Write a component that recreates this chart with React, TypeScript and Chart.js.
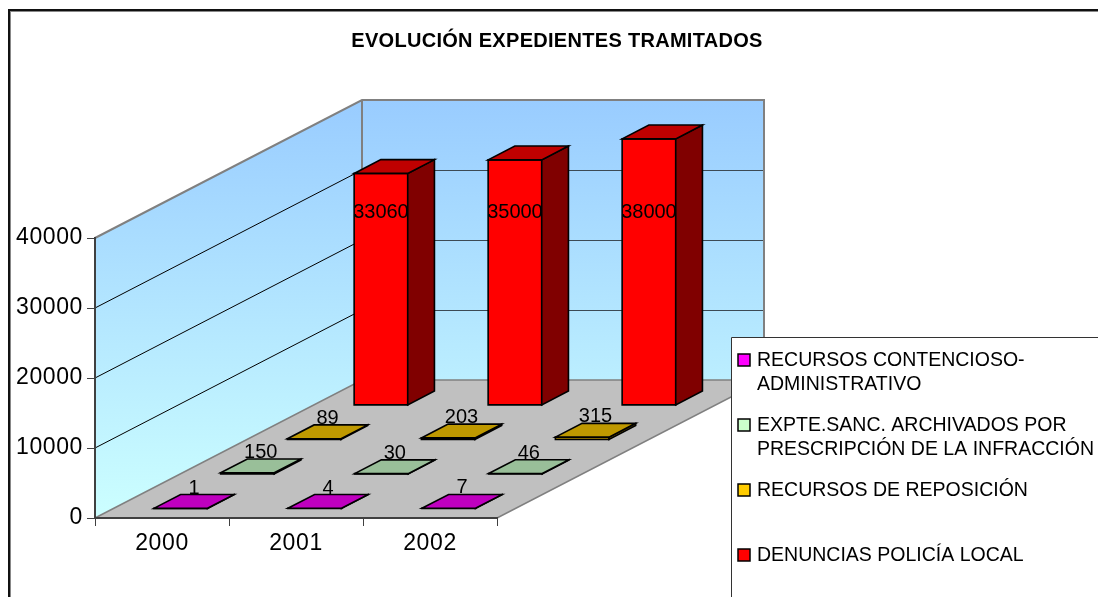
import React, { useEffect, useRef } from 'react';
import { Chart, registerables } from 'chart.js';

Chart.register(...registerables);

// ---------- data ----------
const categories = ['2000', '2001', '2002'];
const contencioso = [1, 4, 7];
const archivados = [150, 30, 46];
const reposicion = [89, 203, 315];
const denuncias = [33060, 35000, 38000];
const seriesLabels = [
  'RECURSOS CONTENCIOSO-ADMINISTRATIVO',
  'EXPTE.SANC. ARCHIVADOS POR PRESCRIPCIÓN DE LA INFRACCIÓN',
  'RECURSOS DE REPOSICIÓN',
  'DENUNCIAS POLICÍA LOCAL',
];
const legendLines = [
  ['RECURSOS CONTENCIOSO-', 'ADMINISTRATIVO'],
  ['EXPTE.SANC. ARCHIVADOS POR', 'PRESCRIPCIÓN DE LA INFRACCIÓN'],
  ['RECURSOS DE REPOSICIÓN'],
  ['DENUNCIAS POLICÍA LOCAL'],
];
const seriesColors = ['#FF00FF', '#CCFFCC', '#FFCC00', '#FF0000'];
const yTicks = [0, 10000, 20000, 30000, 40000];
const chartTitle = 'EVOLUCIÓN EXPEDIENTES TRAMITADOS';

// ---------- style / geometry constants ----------
const FONT = "'Liberation Sans', Arial, sans-serif";
const DX = 267; // depth projection
const DY = -138;
const ROW_SPAN = 0.25;
const ROW_GAP = 0.07;
const ROW_DEPTH = 0.1;
const BAR_FRAC = 0.4;

function shade(hex: string, f: number) {
  const n = parseInt(hex.slice(1), 16);
  const r = Math.round(((n >> 16) & 255) * f);
  const g = Math.round(((n >> 8) & 255) * f);
  const b = Math.round((n & 255) * f);
  return `rgb(${r},${g},${b})`;
}

function poly(ctx: CanvasRenderingContext2D, pts: number[][], fill?: any, stroke?: string, lw = 1) {
  ctx.beginPath();
  ctx.moveTo(pts[0][0], pts[0][1]);
  for (let i = 1; i < pts.length; i++) ctx.lineTo(pts[i][0], pts[i][1]);
  ctx.closePath();
  if (fill) {
    ctx.fillStyle = fill;
    ctx.fill();
  }
  if (stroke) {
    ctx.strokeStyle = stroke;
    ctx.lineWidth = lw;
    ctx.stroke();
  }
}

const threeD = {
  id: 'threeD',
  beforeDraw(chart: any) {
    const ctx: CanvasRenderingContext2D = chart.ctx;
    const ys = chart.scales.y;
    const L = chart.chartArea.left;
    const R = chart.chartArea.right;
    const y0 = ys.getPixelForValue(ys.min);
    const yT = ys.getPixelForValue(ys.max);
    ctx.save();
    ctx.fillStyle = '#fff';
    ctx.fillRect(0, 0, chart.width, chart.height);
    // outer chart border
    ctx.fillStyle = '#111';
    ctx.fillRect(8, 9, chart.width - 8, 2);
    ctx.fillRect(8, 9, 2, chart.height - 9);
    ctx.fillStyle = '#888';
    ctx.fillRect(10, 11, chart.width - 10, 1);
    ctx.fillRect(10, 11, 1, chart.height - 11);

    const grad = ctx.createLinearGradient(0, yT + DY, 0, y0);
    grad.addColorStop(0, '#99CCFF');
    grad.addColorStop(1, '#CCFFFF');
    // side wall
    poly(ctx, [[L, yT], [L + DX, yT + DY], [L + DX, y0 + DY], [L, y0]], grad);
    // back wall
    poly(ctx, [[L + DX, yT + DY], [R + DX, yT + DY], [R + DX, y0 + DY], [L + DX, y0 + DY]], grad);
    // floor
    poly(ctx, [[L, y0], [R, y0], [R + DX, y0 + DY], [L + DX, y0 + DY]], '#C0C0C0');

    // gridlines
    ctx.lineWidth = 1;
    for (const t of ys.ticks) {
      const v = t.value;
      if (v === ys.min || v === ys.max) continue;
      const py = ys.getPixelForValue(v);
      ctx.strokeStyle = '#000';
      ctx.beginPath();
      ctx.moveTo(L, py);
      ctx.lineTo(L + DX, py + DY);
      ctx.stroke();
      ctx.strokeStyle = '#3c4a55';
      ctx.beginPath();
      ctx.moveTo(L + DX, Math.round(py + DY) + 0.5);
      ctx.lineTo(R + DX, Math.round(py + DY) + 0.5);
      ctx.stroke();
    }
    // wall / floor edges
    ctx.strokeStyle = '#808080';
    ctx.lineWidth = 2;
    ctx.beginPath();
    ctx.moveTo(L, yT);
    ctx.lineTo(L + DX, yT + DY);
    ctx.lineTo(R + DX, yT + DY);
    ctx.lineTo(R + DX, y0 + DY);
    ctx.moveTo(L + DX, yT + DY);
    ctx.lineTo(L + DX, y0 + DY);
    ctx.stroke();
    ctx.lineWidth = 1.5;
    ctx.beginPath();
    ctx.moveTo(L, y0);
    ctx.lineTo(L + DX, y0 + DY);
    ctx.lineTo(R + DX, y0 + DY);
    ctx.lineTo(R, y0);
    ctx.stroke();
    ctx.restore();
    (ctx as any).letterSpacing = '0.6px';
  },
  beforeDatasetsDraw() {
    return false;
  },
  afterDraw(chart: any) {
    const ctx: CanvasRenderingContext2D = chart.ctx;
    (ctx as any).letterSpacing = '0px';
    const xs = chart.scales.x;
    const ys = chart.scales.y;
    const y0 = ys.getPixelForValue(0);
    const catW = xs.getPixelForValue(1) - xs.getPixelForValue(0);
    const halfW = (catW * BAR_FRAC) / 2;
    const datasets = chart.data.datasets;
    const labels: any[] = [];

    ctx.save();
    ctx.lineJoin = 'miter';
    for (let s = datasets.length - 1; s >= 0; s--) {
      const ds = datasets[s];
      const d0 = s * ROW_SPAN + ROW_GAP;
      const d1 = d0 + ROW_DEPTH;
      const ox = DX * d0, oy = DY * d0;
      const ddx = DX * (d1 - d0), ddy = DY * (d1 - d0);
      const color = ds.backgroundColor as string;
      ds.data.forEach((v: number, i: number) => {
        const cx = xs.getPixelForValue(i);
        const xl = cx - halfW + ox;
        const xr = cx + halfW + ox;
        const yb = y0 + oy;
        const yt = ys.getPixelForValue(v) + oy;
        // front
        poly(ctx, [[xl, yt], [xr, yt], [xr, yb], [xl, yb]], color, '#000', 1.6);
        // side
        poly(ctx, [[xr, yt], [xr + ddx, yt + ddy], [xr + ddx, yb + ddy], [xr, yb]], shade(color, 0.5), '#000', 1.6);
        // top
        poly(ctx, [[xl, yt], [xr, yt], [xr + ddx, yt + ddy], [xl + ddx, yt + ddy]], shade(color, 0.75), '#000', 1.6);
        if (yb - yt > 40) {
          labels.push({ text: String(v), x: cx + ox, y: yb - 192, base: 'middle' });
        } else {
          labels.push({ text: String(v), x: cx + ox + ddx / 2, y: yt + ddy - 1, base: 'alphabetic' });
        }
      });
    }
    // value labels
    ctx.fillStyle = '#000';
    ctx.font = `20px ${FONT}`;
    ctx.textAlign = 'center';
    for (const l of labels) {
      ctx.textBaseline = l.base;
      ctx.fillText(l.text, l.x, l.y);
    }

    // legend box
    ctx.fillStyle = '#fff';
    ctx.fillRect(731, 337, chart.width, chart.height);
    ctx.strokeStyle = '#333';
    ctx.lineWidth = 1;
    ctx.beginPath();
    ctx.moveTo(731.5, chart.height + 2);
    ctx.lineTo(731.5, 337.5);
    ctx.lineTo(chart.width + 2, 337.5);
    ctx.stroke();
    ctx.font = `19.5px ${FONT}`;
    ctx.textAlign = 'left';
    ctx.textBaseline = 'middle';
    legendLines.forEach((lines, i) => {
      const cy = 360 + 65 * i;
      ctx.fillStyle = seriesColors[i];
      ctx.fillRect(738, cy - 6, 12, 12);
      ctx.strokeStyle = '#000';
      ctx.lineWidth = 1.5;
      ctx.strokeRect(738, cy - 6, 12, 12);
      ctx.fillStyle = '#000';
      lines.forEach((ln, j) => ctx.fillText(ln, 757, cy + 24 * j + 1));
    });

    // title
    ctx.font = `bold 20px ${FONT}`;
    (ctx as any).letterSpacing = '0.3px';
    ctx.textAlign = 'center';
    ctx.textBaseline = 'middle';
    ctx.fillText(chartTitle, 557, 41);
    (ctx as any).letterSpacing = '0px';
    ctx.restore();
  },
};

export default function App() {
  const ref = useRef<HTMLCanvasElement | null>(null);
  useEffect(() => {
    if (!ref.current) return;
    Chart.defaults.font.family = FONT;
    const chart = new Chart(ref.current, {
      type: 'bar',
      data: {
        labels: categories,
        datasets: [
          { label: seriesLabels[0], data: contencioso, backgroundColor: seriesColors[0] },
          { label: seriesLabels[1], data: archivados, backgroundColor: seriesColors[1] },
          { label: seriesLabels[2], data: reposicion, backgroundColor: seriesColors[2] },
          { label: seriesLabels[3], data: denuncias, backgroundColor: seriesColors[3] },
        ],
      },
      options: {
        responsive: false,
        animation: false,
        devicePixelRatio: 1,
        layout: { padding: { left: 0, top: 238, right: 601, bottom: 19 } },
        plugins: {
          legend: { display: false },
          title: { display: false },
          tooltip: { enabled: false },
        },
        scales: {
          x: {
            offset: true,
            grid: { display: true, drawOnChartArea: false, drawTicks: true, tickLength: 8, color: '#404040', offset: true },
            border: { display: true, color: '#404040', width: 2 },
            ticks: { color: '#000', font: { size: 23, family: FONT }, padding: 4, maxRotation: 0 },
            afterFit: (s: any) => {
              s.height = 60;
            },
          },
          y: {
            min: yTicks[0],
            max: yTicks[yTicks.length - 1],
            afterBuildTicks: (s: any) => {
              s.ticks = yTicks.map((v) => ({ value: v }));
            },
            grid: { display: true, drawOnChartArea: false, drawTicks: true, tickLength: 8, color: '#404040' },
            border: { display: true, color: '#404040', width: 2 },
            ticks: { color: '#000', font: { size: 23, family: FONT }, padding: 4, callback: (v: any) => String(v) },
            afterFit: (s: any) => {
              s.width = 95;
            },
          },
        },
      },
      plugins: [threeD],
    } as any);
    return () => chart.destroy();
  }, []);
  return (
    <div style={{ position: 'absolute', left: 0, top: 0, width: 1098, height: 597 }}>
      <canvas ref={ref} width={1098} height={597} style={{ display: 'block' }} />
    </div>
  );
}
